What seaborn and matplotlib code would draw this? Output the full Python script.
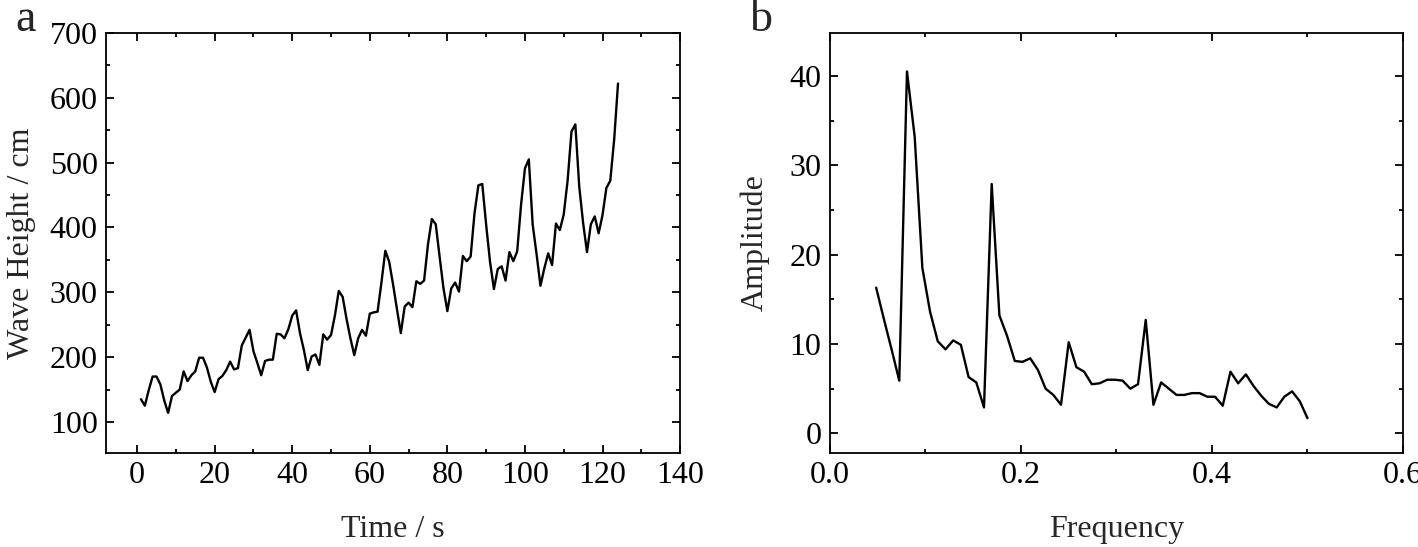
import numpy as np
import pandas as pd
import seaborn as sns
import matplotlib.pyplot as plt
from matplotlib.ticker import MultipleLocator

# panel a: wave height time series
time_s = list(range(1, 125))
wave_height = [135, 125, 149, 170, 170, 158, 133, 114, 140,
               145, 150, 178, 163, 172, 178, 199, 199, 184, 162, 146, 166,
               171, 180, 193, 181, 183, 218, 230, 242, 209, 191, 172, 194,
               196, 196, 236, 235, 229, 243, 264, 272, 237, 211, 180, 201,
               204, 188, 235, 227, 234, 264, 302, 293, 259, 229, 203, 229,
               242, 233, 267, 269, 270, 315, 364, 347, 312, 274, 237, 278,
               284, 277, 317, 313, 318, 374, 413, 405, 355, 306, 271, 306,
               315, 301, 356, 348, 355, 422, 465, 467, 404, 347, 305, 336,
               340, 318, 362, 348, 363, 435, 491, 505, 404, 359, 310, 337,
               360, 342, 406, 396, 420, 472, 548, 559, 463, 407, 362, 405,
               417, 391, 419, 461, 472, 535, 622]

# panel b: amplitude spectrum (bins 6..62 of a 124-point series)
freq_bins = list(range(6, 63))
amplitude = [16.3, 12.8, 9.4, 5.9, 40.5, 33.2, 18.5, 13.6, 10.3, 9.4,
             10.4, 9.9, 6.3, 5.7, 2.9, 27.9, 13.2, 10.9, 8.1, 8.0,
             8.4, 7.1, 5.0, 4.3, 3.2, 10.2, 7.4, 6.9, 5.5, 5.6,
             6.0, 6.0, 5.9, 5.0, 5.5, 12.7, 3.2, 5.7, 5.0, 4.3,
             4.3, 4.5, 4.5, 4.1, 4.1, 3.1, 6.9, 5.6, 6.6, 5.3,
             4.2, 3.3, 2.9, 4.1, 4.7, 3.6, 1.7]
n_samples = 124

df_a = pd.DataFrame({'Time': time_s, 'Height': wave_height})
df_b = pd.DataFrame({'Frequency': np.array(freq_bins) / n_samples, 'Amplitude': amplitude})

sns.set_style('ticks')
plt.rcParams['font.family'] = ['Liberation Serif', 'DejaVu Serif']

fig = plt.figure(figsize=(14.18, 5.47), dpi=100)
ax1 = fig.add_axes([0.0748, 0.1718, 0.4048, 0.7679])
ax2 = fig.add_axes([0.5853, 0.1718, 0.4041, 0.7679])

sns.lineplot(data=df_a, x='Time', y='Height', ax=ax1, color='black', linewidth=1.7)
sns.lineplot(data=df_b, x='Frequency', y='Amplitude', ax=ax2, color='black', linewidth=1.7)

ax1.set_xlim(-8, 140)
ax1.set_ylim(52, 700)
ax1.xaxis.set_major_locator(MultipleLocator(20))
ax1.xaxis.set_minor_locator(MultipleLocator(10))
ax1.yaxis.set_major_locator(MultipleLocator(100))
ax1.yaxis.set_minor_locator(MultipleLocator(50))
ax1.set_xlabel('Time / s', fontsize=23, labelpad=18)
ax1.set_ylabel('Wave Height / cm', fontsize=23, labelpad=10)

ax2.set_xlim(0, 0.6)
ax2.set_ylim(-2.2, 44.8)
ax2.xaxis.set_major_locator(MultipleLocator(0.2))
ax2.xaxis.set_minor_locator(MultipleLocator(0.1))
ax2.yaxis.set_major_locator(MultipleLocator(10))
ax2.yaxis.set_minor_locator(MultipleLocator(5))
ax2.xaxis.set_major_formatter(lambda v, p: f'{v:.1f}')
ax2.set_xlabel('Frequency', fontsize=23, labelpad=18)
ax2.set_ylabel('Amplitude', fontsize=23, labelpad=14)

for ax in (ax1, ax2):
    for s in ax.spines.values():
        s.set_linewidth(1.3)
        s.set_color('black')
    ax.tick_params(which='both', direction='in', top=True, right=True,
                   labelsize=23, width=1.3, colors='black', pad=6)
    ax.tick_params(which='major', length=6)
    ax.tick_params(which='minor', length=3)

fig.text(0.018, 0.963, 'a', fontsize=33, ha='center', va='center')
fig.text(0.537, 0.963, 'b', fontsize=33, ha='center', va='center')

fig.savefig('out.png', dpi=100)
